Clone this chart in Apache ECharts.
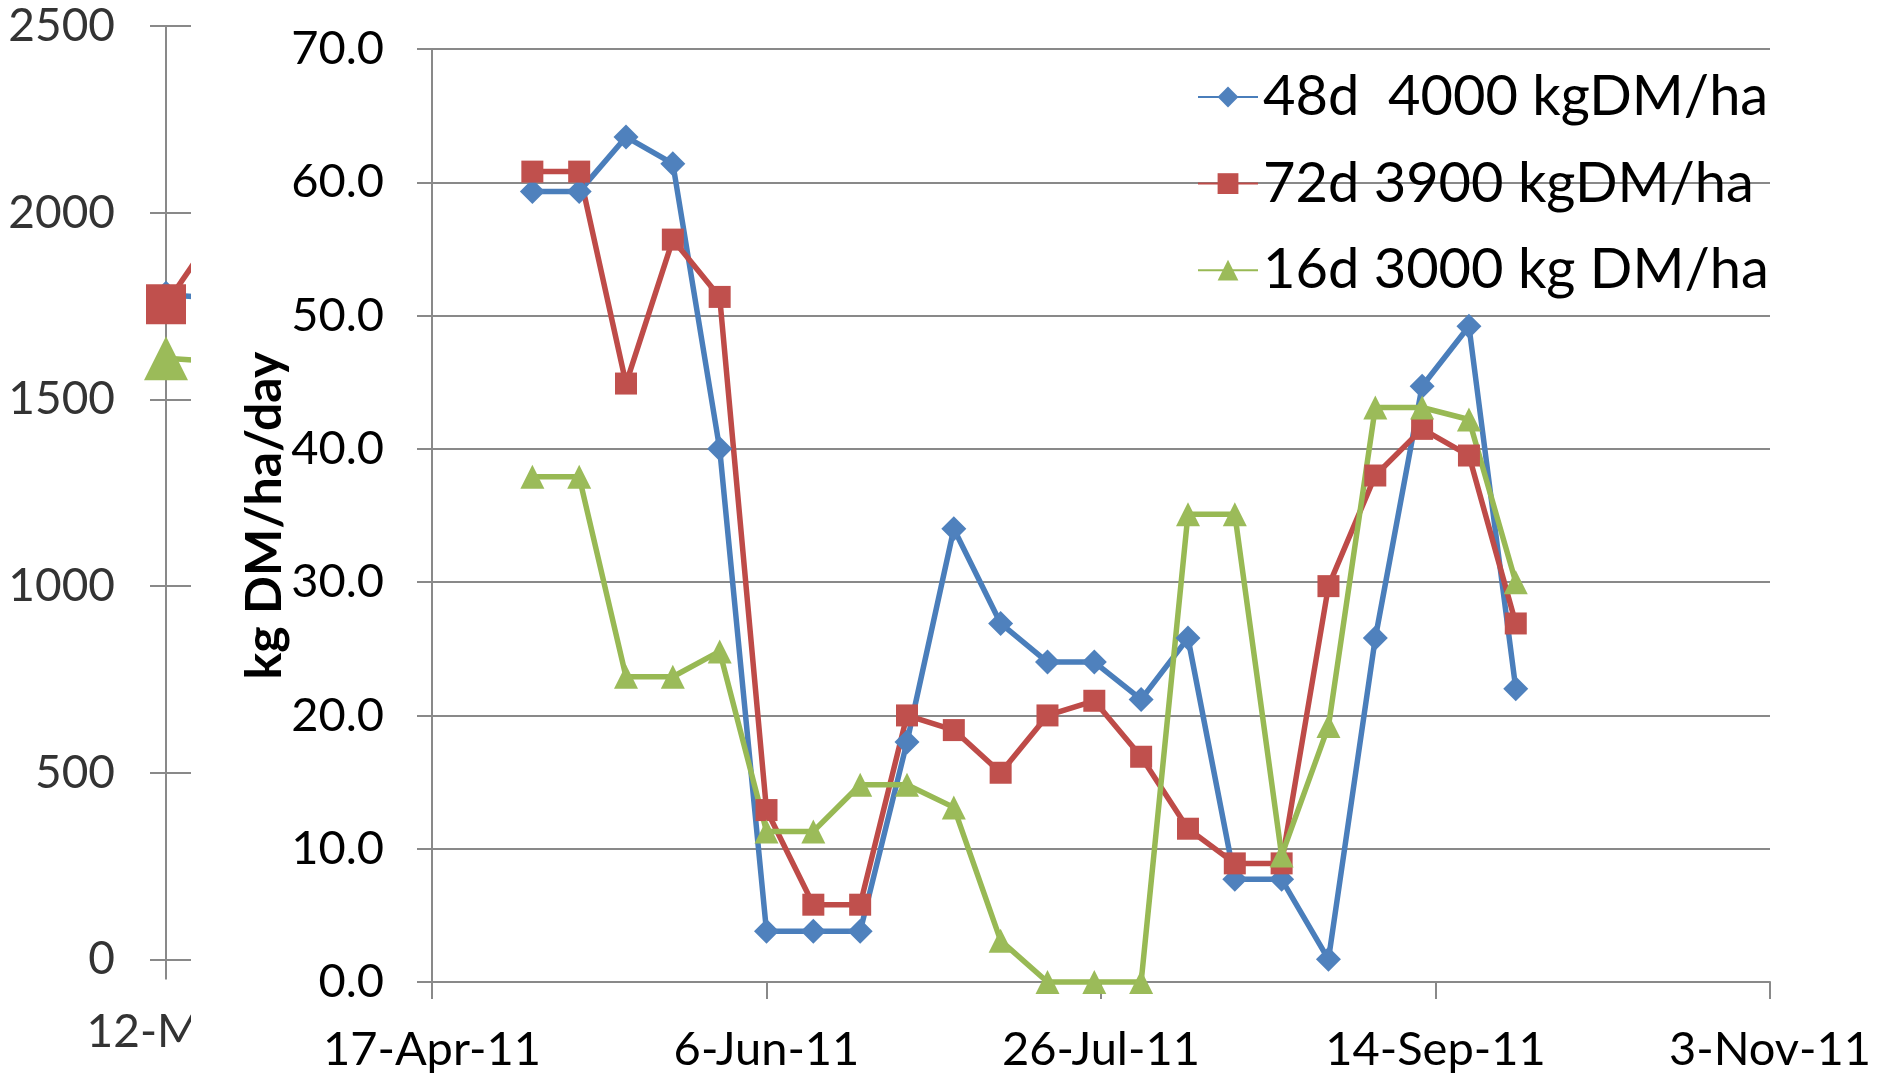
<!DOCTYPE html>
<html>
<head>
<meta charset="utf-8">
<script src="https://cdn.jsdelivr.net/npm/echarts@6/dist/echarts.min.js"></script>
<style>
html, body { margin: 0; padding: 0; background: #fff; }
#wrap { position: relative; width: 1879px; height: 1078px; }
#main { position: absolute; left: 0; top: 0; width: 1879px; height: 1078px; }
#leftClip { position: absolute; left: 0; top: 0; width: 191px; height: 1078px; overflow: hidden; }
#left { width: 700px; height: 1078px; }
</style>
</head>
<body>
<div id="wrap">
  <div id="main"></div>
  <div id="leftClip"><div id="left"></div></div>
</div>
<script>
// weekly measurement dates
var dates = ['2011-05-02', '2011-05-09', '2011-05-16', '2011-05-23', '2011-05-30',
    '2011-06-06', '2011-06-13', '2011-06-20', '2011-06-27', '2011-07-04', '2011-07-11',
    '2011-07-18', '2011-07-25', '2011-08-01', '2011-08-08', '2011-08-15', '2011-08-22',
    '2011-08-29', '2011-09-05', '2011-09-12', '2011-09-19', '2011-09-26'];

// kg DM/ha/day
var s48 = [59.3, 59.3, 63.4, 61.4, 40.0, 3.8, 3.8, 3.8, 18.0, 34.0, 26.9,
    24.0, 24.0, 21.2, 25.8, 7.7, 7.7, 1.7, 25.8, 44.7, 49.2, 22.0];
var s72 = [60.8, 60.8, 44.9, 55.7, 51.4, 12.9, 5.8, 5.8, 20.0, 18.9, 15.7,
    20.0, 21.1, 16.9, 11.5, 8.9, 8.9, 29.7, 38.0, 41.5, 39.5, 26.9];
var s16 = [37.9, 37.9, 22.9, 22.9, 24.8, 11.3, 11.3, 14.8, 14.8, 13.1, 3.1,
    0, 0, 0, 35.1, 35.1, 9.5, 19.2, 43.1, 43.1, 42.2, 30.0];

var names = ['48d  4000 kgDM/ha', '72d 3900 kgDM/ha', '16d 3000 kg DM/ha'];
var xStart = '2011-04-17';
var xEnd = '2011-11-03';
var xStepDays = 50;
var yMax = 70;
var yStep = 10;

// the chart cut off on the left
var leftDates = ['2011-05-12', '2011-05-19'];
var left48 = [1780, 1760];
var left72 = [1755, 2200];
var left16 = [1610, 1590];
var leftYMax = 2500;
var leftYStep = 500;

var DAY = 86400000;
var months = ['Jan', 'Feb', 'Mar', 'Apr', 'May', 'Jun', 'Jul', 'Aug', 'Sep', 'Oct', 'Nov', 'Dec'];

function dayOf(d, start) {
    return (Date.parse(d) - Date.parse(start)) / DAY;
}
function fmtDay(v, start) {
    var dt = new Date(Date.parse(start) + Math.round(v) * DAY);
    var yy = String(dt.getUTCFullYear()).slice(2);
    return dt.getUTCDate() + '-' + months[dt.getUTCMonth()] + '-' + yy;
}
function pairs(ds, vals, start) {
    return ds.map(function (d, i) { return [dayOf(d, start), vals[i]]; });
}

var lineCol = ['#4A7EBB', '#BE4B48', '#98B954'];
var markCol = ['#4F81BD', '#C0504D', '#9BBB59'];
var symbols = ['diamond', 'rect', 'triangle'];
var symSize = [25, 22, 24];
var gridCol = '#898989';
var font = 'Lato, "Open Sans", sans-serif';

function makeSeries(lists, ds, start, sizes) {
    return lists.map(function (vals, i) {
        return {
            name: names[i],
            type: 'line',
            data: pairs(ds, vals, start),
            symbol: symbols[i],
            symbolSize: sizes[i],
            itemStyle: { color: markCol[i] },
            lineStyle: { color: lineCol[i], width: 5.5 },
            clip: false
        };
    });
}

// 主图
var chart = echarts.init(document.getElementById('main'));
chart.setOption({
    animation: false,
    backgroundColor: '#fff',
    grid: { left: 432, top: 49, right: 109, bottom: 96 },
    legend: {
        orient: 'vertical',
        left: 1192,
        top: 62,
        itemWidth: 60,
        itemHeight: 26,
        itemGap: 26.6,
        data: names,
        textStyle: { fontFamily: font, fontSize: 56, color: '#000', lineHeight: 60 }
    },
    xAxis: {
        type: 'value',
        min: 0,
        max: dayOf(xEnd, xStart),
        interval: xStepDays,
        axisLine: { show: true, lineStyle: { color: gridCol, width: 2 } },
        axisTick: { show: true, length: 17, lineStyle: { color: gridCol, width: 2 } },
        splitLine: { show: false },
        axisLabel: {
            margin: 44,
            fontFamily: font,
            fontSize: 47,
            color: '#000',
            formatter: function (v) { return fmtDay(v, xStart); }
        }
    },
    yAxis: {
        type: 'value',
        min: 0,
        max: yMax,
        interval: yStep,
        name: 'kg DM/ha/day',
        nameLocation: 'middle',
        nameRotate: 90,
        nameGap: 142,
        nameMoveOverlap: false,
        nameTextStyle: { fontFamily: font, fontWeight: 'bold', fontSize: 50, color: '#000' },
        axisLine: { show: true, lineStyle: { color: gridCol, width: 2 } },
        axisTick: { show: true, length: 15, lineStyle: { color: gridCol, width: 2 } },
        splitLine: { show: true, lineStyle: { color: gridCol, width: 2 } },
        axisLabel: {
            margin: 48,
            fontFamily: font,
            fontSize: 47,
            color: '#000',
            formatter: function (v) { return v.toFixed(1); }
        }
    },
    series: makeSeries([s48, s72, s16], dates, xStart, symSize)
});

// 左侧被截掉的图
var leftChart = echarts.init(document.getElementById('left'));
leftChart.setOption({
    animation: false,
    grid: { left: 166, top: 26, width: 500, bottom: 118.6 },
    xAxis: {
        type: 'value',
        min: 0,
        max: 25,
        interval: 25,
        axisLine: { show: true, lineStyle: { color: gridCol, width: 2 } },
        axisTick: { show: true, length: 20, lineStyle: { color: gridCol, width: 2 } },
        splitLine: { show: false },
        axisLabel: {
            margin: 50,
            padding: [0, 0, 0, 70],
            fontFamily: font,
            fontSize: 46,
            color: '#333',
            formatter: function (v) { return fmtDay(v, leftDates[0]); }
        }
    },
    yAxis: {
        type: 'value',
        min: 0,
        max: leftYMax,
        interval: leftYStep,
        axisLine: { show: true, lineStyle: { color: gridCol, width: 2 } },
        axisTick: { show: true, length: 16, lineStyle: { color: gridCol, width: 2 } },
        splitLine: { show: true, lineStyle: { color: gridCol, width: 2 } },
        axisLabel: {
            margin: 51,
            fontFamily: font,
            fontSize: 46,
            color: '#333',
            formatter: function (v) { return String(v); }
        }
    },
    series: makeSeries([left48, left72, left16], leftDates, leftDates[0], [28, 40, 44])
});
</script>
</body>
</html>
